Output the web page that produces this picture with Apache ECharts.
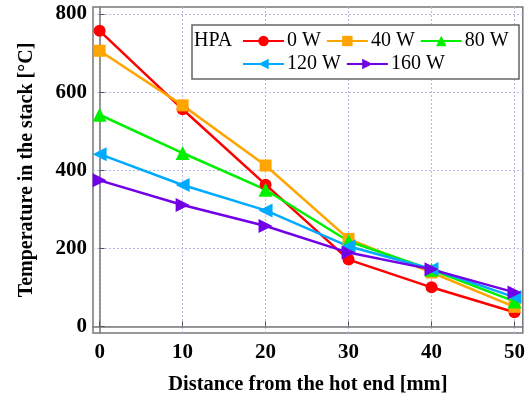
<!DOCTYPE html>
<html>
<head>
<meta charset="utf-8">
<script src="https://cdn.jsdelivr.net/npm/echarts@6/dist/echarts.min.js"></script>
<style>
  html, body { margin: 0; padding: 0; background: #fff; }
  #chart { width: 528px; height: 404px; }
</style>
</head>
<body>
<div id="chart"></div>
<script>
// distance from the hot end [mm]
const distance = [0, 10, 20, 30, 40, 50]
const xTicks = [0, 10, 20, 30, 40, 50]
const yTicks = [0, 200, 400, 600, 800]

// temperature in the stack [°C], one array per HPA power
const hpa0 = [757, 556, 363, 171, 100, 36]
const hpa40 = [706, 566, 412, 224, 138, 50]
const hpa80 = [542, 444, 350, 218, 145, 64]
const hpa120 = [441, 362, 297, 205, 147, 75]
const hpa160 = [374, 311, 257, 189, 146, 87]

const seriesNames = ['0 W', '40 W', '80 W', '120 W', '160 W']
const seriesValues = [hpa0, hpa40, hpa80, hpa120, hpa160]
const colors = ['#ff0000', '#ffa500', '#00f000', '#00aaff', '#7200e6']
const symbols = ['circle', 'rect', 'triangle', 'triangle', 'triangle']
const sizes = [12, 12, 14, 14, 14]
const rotations = [0, 0, 0, 90, -90]

const FONT = '"Liberation Serif", "Times New Roman", serif'

const chart = echarts.init(document.getElementById('chart'), null, { renderer: 'canvas' })

const series = seriesNames.map((name, i) => ({
  name: name,
  type: 'line',
  data: distance.map((d, j) => [d, seriesValues[i][j]]),
  symbol: symbols[i],
  symbolSize: sizes[i],
  symbolRotate: rotations[i],
  lineStyle: { color: colors[i], width: 2.5 },
  itemStyle: { color: colors[i] },
  animation: false
}))

const legendCommon = {
  orient: 'horizontal',
  padding: 0,
  itemWidth: 41,
  itemHeight: 13,
  itemGap: 5,
  textStyle: { fontFamily: FONT, fontSize: 20, color: '#000', padding: [0, 0, 0, -2] },
  backgroundColor: 'transparent'
}

const gridLine = { show: true, lineStyle: { color: '#b8b8f0', type: [2, 2], width: 1 } }

chart.setOption({
  backgroundColor: '#fff',
  grid: {
    left: 93, right: 1, top: 7, bottom: 71,
    show: true, borderColor: '#777', borderWidth: 1.5
  },
  xAxis: {
    type: 'value',
    min: -0.8,
    max: 51,
    name: 'Distance from the hot end [mm]',
    nameLocation: 'middle',
    nameGap: 41,
    nameTextStyle: { fontFamily: FONT, fontSize: 20.5, fontWeight: 'bold', color: '#000' },
    axisLine: { show: true, lineStyle: { color: '#777', width: 1.5 } },
    axisTick: { show: true, inside: true, length: 5, customValues: xTicks, lineStyle: { color: '#555' } },
    axisLabel: {
      fontFamily: FONT, fontSize: 21, fontWeight: 'bold', color: '#000', margin: 9,
      customValues: xTicks
    },
    splitLine: gridLine
  },
  yAxis: {
    type: 'value',
    min: -17,
    max: 818,
    name: 'Temperature in the stack [°C]',
    nameLocation: 'middle',
    nameGap: 56,
    nameTextStyle: { fontFamily: FONT, fontSize: 20, fontWeight: 'bold', color: '#000' },
    axisLine: { show: true, lineStyle: { color: '#777', width: 1.5 } },
    axisTick: { show: true, inside: true, length: 5, customValues: yTicks, lineStyle: { color: '#555' } },
    axisLabel: {
      fontFamily: FONT, fontSize: 21, fontWeight: 'bold', color: '#000', margin: 6,
      customValues: yTicks
    },
    splitLine: gridLine
  },
  legend: [
    Object.assign({ data: seriesNames.slice(0, 3), left: 242, top: 31 }, legendCommon),
    Object.assign({ data: seriesNames.slice(3), left: 242, top: 54 }, legendCommon)
  ],
  graphic: [
    {
      type: 'rect',
      shape: { x: 192, y: 25, width: 327, height: 54 },
      style: { fill: '#fff', stroke: '#666', lineWidth: 1.5 },
      z: 4
    },
    {
      type: 'text',
      x: 194, y: 31,
      style: { text: 'HPA', font: '20px ' + FONT, fill: '#000' },
      z: 5
    }
  ],
  series: series
})
</script>
</body>
</html>
